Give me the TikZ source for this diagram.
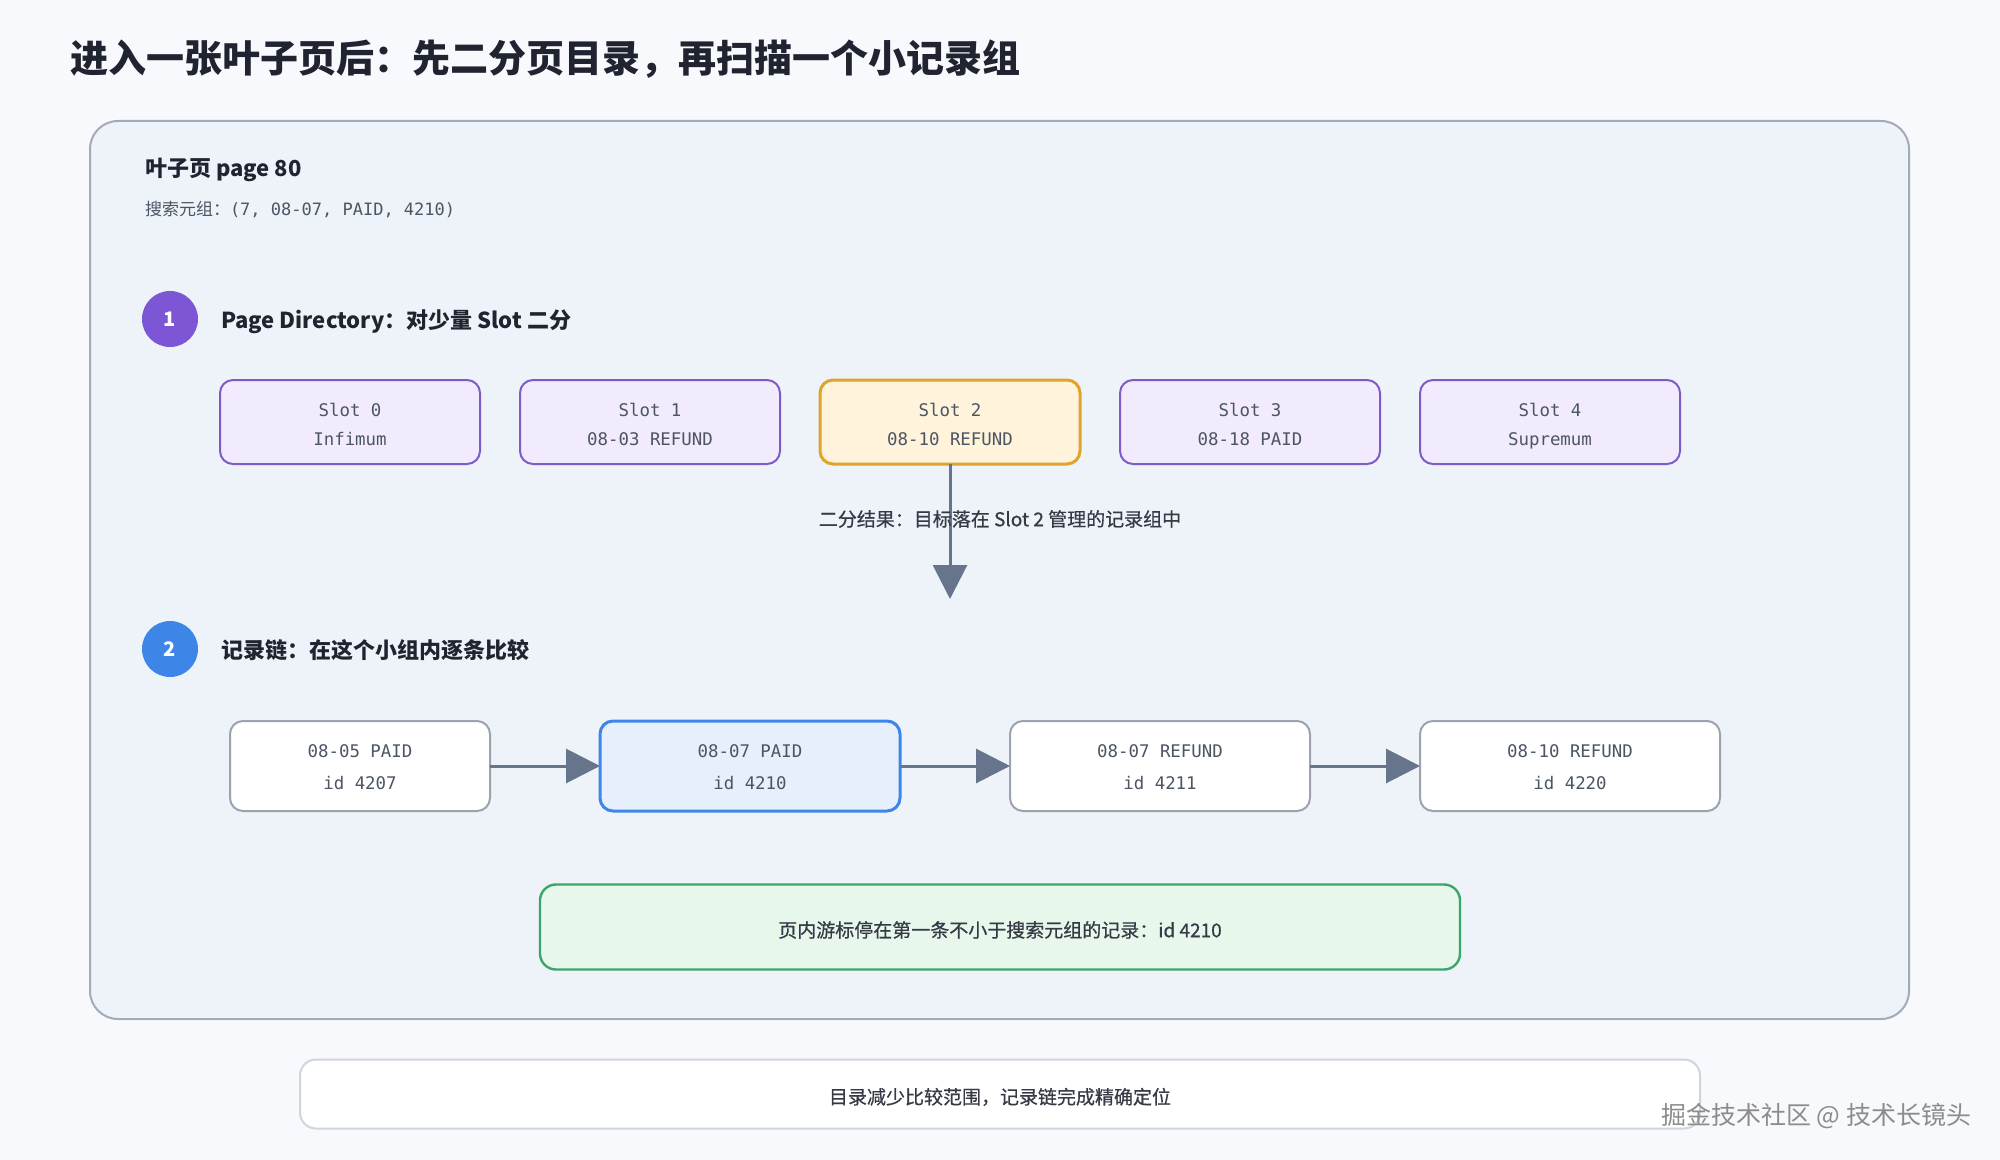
\documentclass[tikz,border=0pt]{standalone}
\usepackage{fontspec}
\setmainfont{Noto Sans CJK SC}
\newfontfamily\medfont{Noto Sans CJK SC}[FakeBold=0.6]
\newfontfamily\monof{DejaVu Sans Mono}
\usetikzlibrary{arrows.meta}
\definecolor{bgcol}{HTML}{F7F9FC}
\definecolor{panelfill}{HTML}{EEF3F9}
\definecolor{panelline}{HTML}{A3ABB8}
\definecolor{titletext}{HTML}{1F2430}
\definecolor{monotext}{HTML}{4B5563}
\definecolor{slotfill}{HTML}{F2EBFD}
\definecolor{slotline}{HTML}{7E5CC8}
\definecolor{hotfill}{HTML}{FFF4DB}
\definecolor{hotline}{HTML}{E0A42C}
\definecolor{circA}{HTML}{7C56D4}
\definecolor{circB}{HTML}{3D86E8}
\definecolor{recline}{HTML}{9CA3AF}
\definecolor{selfill}{HTML}{E6F0FD}
\definecolor{selline}{HTML}{3D86E8}
\definecolor{arrowcol}{HTML}{66758B}
\definecolor{greenfill}{HTML}{E7F7EC}
\definecolor{greenline}{HTML}{3BA66B}
\definecolor{footline}{HTML}{D0D5DC}
\begin{document}
\begin{tikzpicture}[x=0.5pt,y=-0.5pt,
  every node/.style={inner sep=0pt, outer sep=0pt},
  slotbox/.style={draw=slotline, fill=slotfill, line width=1pt, rounded corners=6.5pt,
    minimum width=130pt, minimum height=42pt, align=center,
    text height=23.5pt, text depth=0pt,
    font=\monof\fontsize{8.7}{14.5}\selectfont, text=monotext},
  hotbox/.style={slotbox, draw=hotline, fill=hotfill, line width=1.5pt},
  recbox/.style={draw=recline, fill=white, line width=1pt, rounded corners=6.5pt,
    minimum width=150pt, minimum height=45pt, align=center,
    text height=23.8pt, text depth=0pt,
    font=\monof\fontsize{8.7}{16}\selectfont, text=monotext},
  selbox/.style={recbox, draw=selline, fill=selfill, line width=1.5pt},
  stepcirc/.style={circle, minimum size=28pt, text=white, font=\bfseries\fontsize{10}{12}\selectfont},
  heading/.style={anchor=west, text=titletext, font=\bfseries\fontsize{11}{13}\selectfont},
  labeltext/.style={text=titletext!90, font=\medfont\fontsize{9.5}{11}\selectfont},
  conn/.style={draw=arrowcol, line width=1.5pt, -{Triangle[length=17pt,width=17pt]}}
]
\fill[bgcol] (0,0) rectangle (2000,1160);
\useasboundingbox (0,0) rectangle (2000,1160);

\node[anchor=west, text=titletext, font=\bfseries\fontsize{19}{22}\selectfont] (title) at (70,59) {进入一张叶子页后：先二分页目录，再扫描一个小记录组};

\draw[draw=panelline, fill=panelfill, line width=1pt, rounded corners=14pt] (90,121) rectangle (1909,1019);

\node[heading] (pagelbl) at (145,170) {叶子页 page 80};
\node[anchor=west, text=monotext, font=\fontsize{8.5}{10}\selectfont] (tuple) at (145,210) {搜索元组：{\monof (7, 08-07, PAID, 4210)}};

\node[stepcirc, fill=circA] (c1) at (170,319) {1};
\node[heading] (h1) at (221,322) {Page Directory：对少量 Slot 二分};

\node[slotbox] (s0) at (350,422) {Slot 0\\Infimum};
\node[slotbox] (s1) at (650,422) {Slot 1\\08-03 REFUND};
\node[hotbox]  (s2) at (950,422) {Slot 2\\08-10 REFUND};
\node[slotbox] (s3) at (1250,422) {Slot 3\\08-18 PAID};
\node[slotbox] (s4) at (1550,422) {Slot 4\\Supremum};

\coordinate (down) at (950,599);
\draw[conn] (s2.south) -- (down);
\node[labeltext] (binres) at (1000,519) {二分结果：目标落在 Slot 2 管理的记录组中};

\node[stepcirc, fill=circB] (c2) at (170,649) {2};
\node[heading] (h2) at (221,650) {记录链：在这个小组内逐条比较};

\node[recbox, minimum width=130pt] (r1) at (360,766) {08-05 PAID\\id 4207};
\node[selbox] (r2) at (750,766) {08-07 PAID\\id 4210};
\node[recbox] (r3) at (1160,766) {08-07 REFUND\\id 4211};
\node[recbox] (r4) at (1570,766) {08-10 REFUND\\id 4220};
\draw[conn] (r1.east) -- (r2.west);
\draw[conn] (r2.east) -- (r3.west);
\draw[conn] (r3.east) -- (r4.west);

\node[draw=greenline, fill=greenfill, line width=1.2pt, rounded corners=8pt,
  minimum width=460pt, minimum height=42.5pt, labeltext, text height=10.2pt, text depth=0pt] (cursor) at (1000,927)
  {页内游标停在第一条不小于搜索元组的记录：id 4210};

\node[draw=footline, fill=white, line width=1pt, rounded corners=8pt,
  minimum width=700pt, minimum height=34.5pt, labeltext, text height=10pt, text depth=0pt] (foot) at (1000,1094)
  {目录减少比较范围，记录链完成精确定位};

\node[anchor=east, text=black!45, font=\fontsize{12.5}{14}\selectfont] (wm) at (1971,1116) {掘金技术社区 @ 技术长镜头};
\end{tikzpicture}
\end{document}
